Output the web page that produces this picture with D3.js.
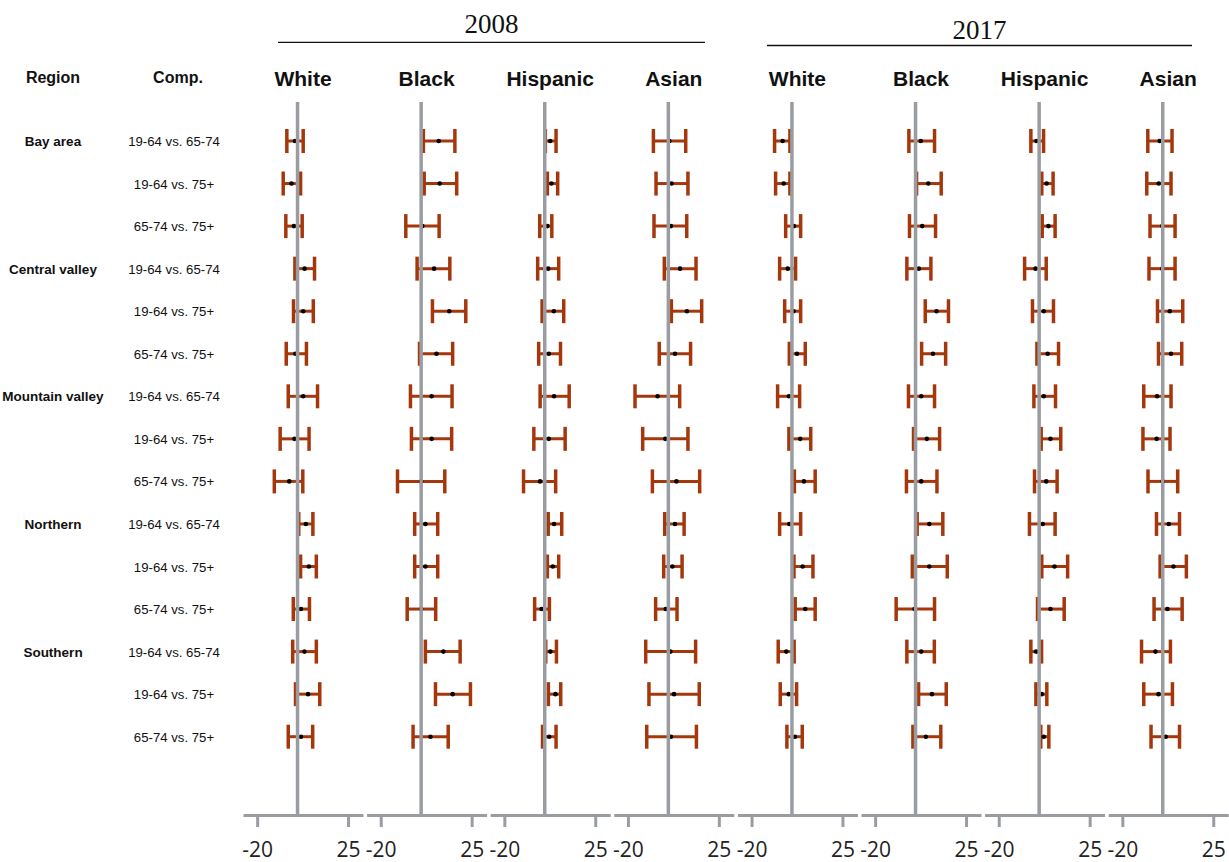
<!DOCTYPE html>
<html>
<head>
<meta charset="utf-8">
<script src="https://cdn.jsdelivr.net/npm/d3@7"></script>
<style>
  html, body { margin: 0; padding: 0; background: #fff; }
  svg { display: block; }
</style>
</head>
<body>
<svg id="chart" width="1229" height="862"></svg>
<script>
// Differences between age groups, by region and race/ethnicity.
// Each entry: [estimate, lower CI, upper CI]
const regions = ["Bay area", "Central valley", "Mountain valley", "Northern", "Southern"];
const comparisons = ["19-64 vs. 65-74", "19-64 vs. 75+", "65-74 vs. 75+"];
const races = ["White", "Black", "Hispanic", "Asian"];
const years = ["2008", "2017"];
const tickValues = [-20, 25];

const white2008 = [
  [-1.3, -5.3, 2.8], [-3.0, -7.1, 1.5], [-1.8, -5.8, 2.3],
  [3.5, -1.3, 8.4], [2.8, -2.0, 7.8], [-1.1, -5.6, 4.4],
  [2.8, -4.6, 9.9], [-1.5, -8.6, 5.7], [-4.1, -11.5, 2.6],
  [4.1, 0.6, 7.6], [5.6, 1.5, 9.3], [1.7, -2.1, 5.9],
  [3.4, -2.4, 9.3], [5.2, -1.0, 11.0], [1.7, -4.6, 7.5]
];
const black2008 = [
  [8.7, 1.1, 16.7], [9.2, 1.5, 17.6], [0.6, -7.6, 8.9],
  [6.4, -2.0, 14.2], [13.9, 5.6, 22.1], [7.6, -0.8, 15.6],
  [5.2, -5.3, 15.3], [5.2, -4.8, 15.1], [0.0, -11.7, 11.7],
  [2.1, -3.2, 8.2], [2.1, -3.2, 8.2], [0.0, -6.9, 7.2],
  [11.0, 2.1, 19.3], [15.6, 7.1, 24.4], [4.6, -4.0, 13.4]
];
const hispanic2008 = [
  [2.7, 0.3, 5.6], [3.3, 1.3, 6.4], [1.3, -2.5, 3.5],
  [1.7, -3.5, 6.9], [4.5, -1.3, 9.4], [2.0, -3.0, 7.8],
  [4.6, -2.3, 12.1], [2.0, -5.4, 10.1], [-2.3, -10.5, 5.4],
  [4.6, 1.7, 8.4], [4.0, 1.3, 6.9], [-1.6, -5.0, 2.3],
  [2.8, 0.5, 5.8], [5.3, 1.8, 7.9], [2.2, -1.1, 5.6]
];
const asian2008 = [
  [0.5, -7.4, 8.6], [1.6, -6.1, 9.7], [1.3, -7.1, 9.1],
  [5.8, -2.0, 13.7], [9.2, 1.5, 16.5], [3.3, -4.5, 11.0],
  [-5.3, -16.5, 5.6], [-1.5, -12.7, 9.7], [4.0, -7.9, 15.5],
  [3.3, -1.8, 7.8], [2.0, -2.3, 6.8], [-1.3, -6.3, 4.3],
  [1.0, -11.2, 13.5], [2.8, -9.6, 15.3], [1.3, -10.7, 13.9]
];
const white2017 = [
  [-4.6, -8.6, -1.0], [-4.1, -8.1, -1.0], [1.0, -3.1, 4.3],
  [-2.1, -6.1, 1.8], [0.8, -3.6, 4.3], [2.5, -1.3, 6.6],
  [-1.5, -7.1, 3.8], [4.1, -1.5, 9.3], [5.9, 1.2, 11.5],
  [-1.3, -6.1, 4.3], [5.3, 1.0, 10.4], [6.6, 1.6, 11.5],
  [-2.8, -6.8, 1.1], [-1.6, -5.8, 2.3], [1.5, -2.5, 5.1]
];
const black2017 = [
  [2.6, -3.3, 9.4], [6.3, 0.5, 12.7], [3.3, -3.0, 9.9],
  [1.6, -4.3, 7.6], [10.4, 4.8, 16.3], [8.6, 3.0, 14.9],
  [2.8, -3.5, 9.4], [5.6, -1.0, 11.9], [2.8, -4.5, 10.6],
  [6.8, 0.8, 13.5], [6.8, -1.6, 15.7], [-0.5, -9.6, 9.4],
  [2.8, -4.3, 9.3], [8.1, 1.5, 15.2], [5.1, -1.3, 12.5]
];
const hispanic2017 = [
  [-1.3, -4.1, 2.2], [3.7, 1.3, 6.9], [4.6, 1.5, 7.9],
  [-1.8, -7.2, 3.5], [2.3, -3.3, 7.1], [4.2, -1.1, 9.6],
  [2.3, -2.6, 8.1], [5.6, 1.0, 10.7], [3.5, -2.3, 8.9],
  [1.8, -4.8, 7.9], [7.6, 1.3, 14.1], [5.6, -0.8, 12.4],
  [-1.5, -4.1, 1.2], [1.3, -1.6, 3.8], [2.3, 0.8, 4.8]
];
const asian2017 = [
  [-1.5, -7.4, 4.6], [-2.0, -7.9, 4.1], [-0.2, -6.3, 6.1],
  [-0.2, -6.8, 6.1], [3.5, -2.6, 9.9], [4.1, -2.1, 9.4],
  [-2.8, -9.4, 4.1], [-3.0, -9.8, 3.6], [0.0, -7.3, 7.4],
  [3.0, -3.1, 8.3], [5.3, -1.3, 11.7], [2.3, -4.3, 9.6],
  [-3.6, -10.5, 3.8], [-2.1, -9.4, 4.8], [1.5, -5.8, 8.3]
];

const panelData = [
  white2008, black2008, hispanic2008, asian2008,
  white2017, black2017, hispanic2017, asian2017
];

// Layout
const panelLeft = 243, panelStep = 123.6, panelWidth = 120;
const rowTop = 141, rowStep = 42.55;
const zeroTop = 102, axisY = 815;
const barColor = "#A4380C";
const guideColor = "#999da2";

const svg = d3.select("#chart");

const rowCount = regions.length * comparisons.length;
const y = d3.scaleLinear().domain([0, rowCount - 1]).range([rowTop, rowTop + rowStep * (rowCount - 1)]);

// Row labels
svg.append("text").attr("x", 53).attr("y", 83).attr("text-anchor", "middle")
  .attr("font-family", "'Liberation Sans', Arial, sans-serif").attr("font-weight", "bold")
  .attr("font-size", 16).attr("fill", "#111").text("Region");
svg.append("text").attr("x", 178).attr("y", 83).attr("text-anchor", "middle")
  .attr("font-family", "'Liberation Sans', Arial, sans-serif").attr("font-weight", "bold")
  .attr("font-size", 16).attr("fill", "#111").text("Comp.");

regions.forEach((r, ri) => {
  svg.append("text")
    .attr("x", 53).attr("y", y(ri * comparisons.length) + 5)
    .attr("text-anchor", "middle")
    .attr("font-family", "'Liberation Sans', Arial, sans-serif").attr("font-weight", "bold")
    .attr("font-size", 13.5).attr("fill", "#111").text(r);
  comparisons.forEach((c, ci) => {
    svg.append("text")
      .attr("x", 174).attr("y", y(ri * comparisons.length + ci) + 5)
      .attr("text-anchor", "middle")
      .attr("font-family", "'Liberation Sans', Arial, sans-serif")
      .attr("font-size", 13.2).attr("fill", "#111").text(c);
  });
});

// Year headings with rules
const yearLayout = [
  { x1: 278, x2: 705, ly: 42.3, ty: 33 },
  { x1: 767, x2: 1192, ly: 45.5, ty: 39 }
];
years.forEach((yr, i) => {
  const L = yearLayout[i];
  svg.append("line").attr("x1", L.x1).attr("x2", L.x2).attr("y1", L.ly).attr("y2", L.ly)
    .attr("stroke", "#111").attr("stroke-width", 1.3);
  svg.append("text").attr("x", (L.x1 + L.x2) / 2).attr("y", L.ty)
    .attr("text-anchor", "middle")
    .attr("font-family", "'Liberation Serif', 'Times New Roman', serif")
    .attr("font-size", 27).attr("fill", "#111").text(yr);
});

// Panels
panelData.forEach((data, p) => {
  const x0 = panelLeft + p * panelStep;
  const x = d3.scaleLinear().domain([-27, 32.4]).range([x0, x0 + panelWidth]);
  const g = svg.append("g");

  // Race heading
  g.append("text").attr("x", x0 + panelWidth / 2).attr("y", 86)
    .attr("text-anchor", "middle")
    .attr("font-family", "'Liberation Sans', Arial, sans-serif").attr("font-weight", "bold")
    .attr("font-size", 21).attr("fill", "#111").text(races[p % races.length]);

  // Axis
  const axis = d3.axisBottom(x).tickValues(tickValues).tickSize(12).tickSizeOuter(0).tickPadding(15)
    .tickFormat(d3.format("d"));
  const ax = g.append("g").attr("transform", `translate(0,${axisY})`).call(axis);
  ax.select(".domain").attr("stroke", guideColor).attr("stroke-width", 3);
  ax.selectAll(".tick line").attr("stroke", guideColor).attr("stroke-width", 3);
  ax.selectAll(".tick text")
    .attr("font-family", "'Open Sans', 'DejaVu Sans', sans-serif")
    .attr("font-size", 21).attr("fill", "#222")
    .text(d => d < 0 ? "-" + Math.abs(d) : d);

  // Confidence intervals
  const bars = g.append("g").selectAll("g").data(data).join("g");
  bars.append("line")
    .attr("x1", d => x(d[1])).attr("x2", d => x(d[2]))
    .attr("y1", (d, i) => y(i)).attr("y2", (d, i) => y(i))
    .attr("stroke", barColor).attr("stroke-width", 3);
  bars.append("line")
    .attr("x1", d => x(d[1])).attr("x2", d => x(d[1]))
    .attr("y1", (d, i) => y(i) - 12).attr("y2", (d, i) => y(i) + 12)
    .attr("stroke", barColor).attr("stroke-width", 3.5);
  bars.append("line")
    .attr("x1", d => x(d[2])).attr("x2", d => x(d[2]))
    .attr("y1", (d, i) => y(i) - 12).attr("y2", (d, i) => y(i) + 12)
    .attr("stroke", barColor).attr("stroke-width", 3.5);
  bars.append("circle")
    .attr("cx", d => x(d[0])).attr("cy", (d, i) => y(i)).attr("r", 2.3)
    .attr("fill", "#000");

  // Zero reference line
  g.append("line").attr("x1", x(0)).attr("x2", x(0)).attr("y1", zeroTop).attr("y2", axisY)
    .attr("stroke", guideColor).attr("stroke-width", 3.5);
});
</script>
</body>
</html>
